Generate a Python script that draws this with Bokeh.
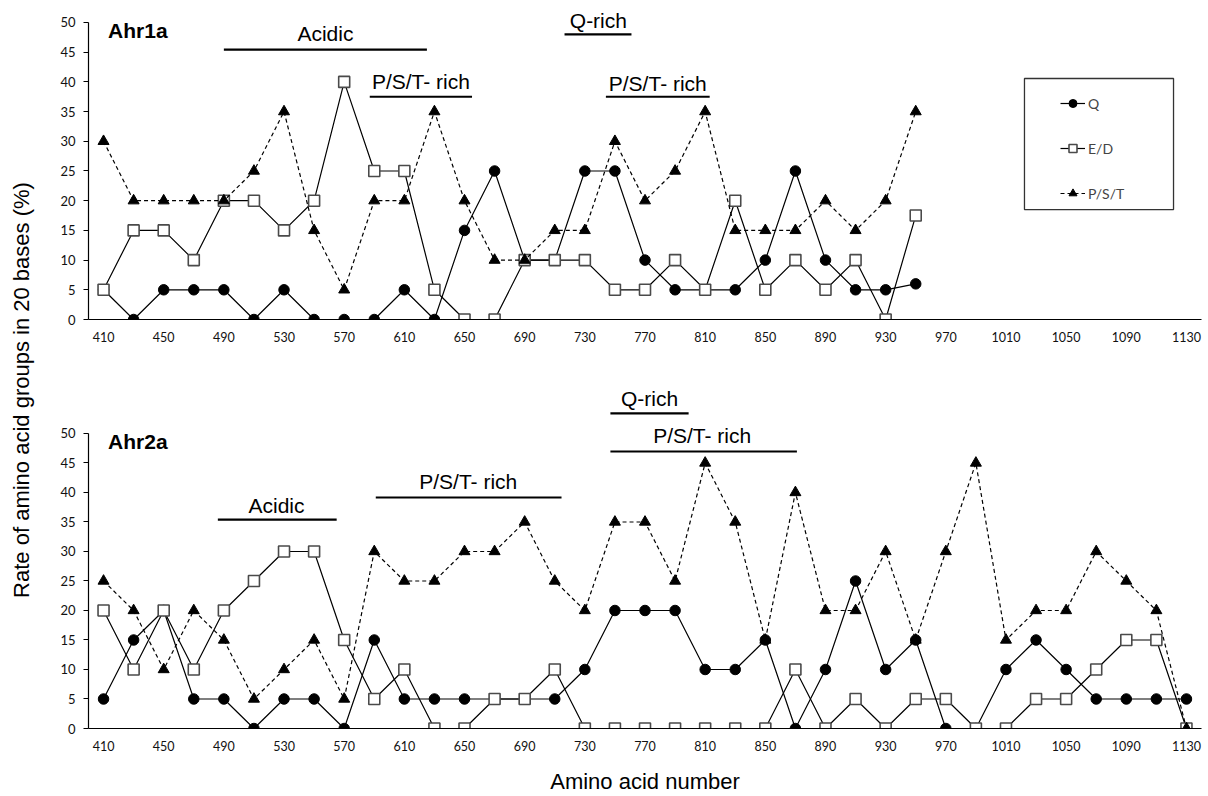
from bokeh.plotting import figure
from bokeh.models import (Range1d, FixedTicker, Label, Legend, LegendItem,
                          BoxAnnotation, Div)
from bokeh.layouts import row, column
from bokeh.embed import file_html
from bokeh.resources import INLINE

# ---------------- data ----------------
aa_top = [410, 430, 450, 470, 490, 510, 530, 550, 570, 590, 610, 630, 650, 670,
          690, 710, 730, 750, 770, 790, 810, 830, 850, 870, 890, 910, 930, 950]
q_top = [5, 0, 5, 5, 5, 0, 5, 0, 0, 0, 5, 0, 15, 25,
         10, 10, 25, 25, 10, 5, 5, 5, 10, 25, 10, 5, 5, 6]
ed_top = [5, 15, 15, 10, 20, 20, 15, 20, 40, 25, 25, 5, 0, 0,
          10, 10, 10, 5, 5, 10, 5, 20, 5, 10, 5, 10, 0, 17.5]
pst_top = [30, 20, 20, 20, 20, 25, 35, 15, 5, 20, 20, 35, 20, 10,
           10, 15, 15, 30, 20, 25, 35, 15, 15, 15, 20, 15, 20, 35]

aa_bot = [410, 430, 450, 470, 490, 510, 530, 550, 570, 590, 610, 630, 650, 670,
          690, 710, 730, 750, 770, 790, 810, 830, 850, 870, 890, 910, 930, 950,
          970, 990, 1010, 1030, 1050, 1070, 1090, 1110, 1130]
q_bot = [5, 15, 20, 5, 5, 0, 5, 5, 0, 15, 5, 5, 5, 5,
         5, 5, 10, 20, 20, 20, 10, 10, 15, 0, 10, 25, 10, 15,
         0, 0, 10, 15, 10, 5, 5, 5, 5]
ed_bot = [20, 10, 20, 10, 20, 25, 30, 30, 15, 5, 10, 0, 0, 5,
          5, 10, 0, 0, 0, 0, 0, 0, 0, 10, 0, 5, 0, 5,
          5, 0, 0, 5, 5, 10, 15, 15, 0]
pst_bot = [25, 20, 10, 20, 15, 5, 10, 15, 5, 30, 25, 25, 30, 30,
           35, 25, 20, 35, 35, 25, 45, 35, 15, 40, 20, 20, 30, 15,
           30, 45, 15, 20, 20, 30, 25, 20, 0]

x_tick_labels = [410, 450, 490, 530, 570, 610, 650, 690, 730, 770, 810, 850,
                 890, 930, 970, 1010, 1050, 1090, 1130]
y_tick_labels = [0, 5, 10, 15, 20, 25, 30, 35, 40, 45, 50]

series_names = ["Q", "E/D", "P/S/T"]

# region annotations: (label, start, end, bar level, text x, text y)
regions_top = [("Acidic", 490, 625, 45.45, 557.5, 48.1),
               ("P/S/T- rich", 587, 655, 37.5, 621, 40.0),
               ("Q-rich", 716.5, 761, 48.0, 739, 50.3),
               ("P/S/T- rich", 744, 813, 37.5, 778.5, 39.7)]
regions_bot = [("Acidic", 486, 565, 35.4, 525, 37.8),
               ("P/S/T- rich", 591, 714.5, 39.15, 652.5, 41.9),
               ("Q-rich", 747, 799, 53.4, 773, 55.9),
               ("P/S/T- rich", 747, 871, 46.95, 808, 49.66)]

TEXT_FONT = "Liberation Sans"
TICK_FONT = "Lato"


def make_panel(title, aa, q, ed, pst, regions, height, y_end, mb_top, mb_bottom,
               with_legend=False, xlabel=None):
    p = figure(width=1168, height=height, x_range=Range1d(400, 1140),
               y_range=Range1d(0, y_end), toolbar_location=None,
               output_backend="svg", min_border_left=48, min_border_right=7,
               min_border_top=mb_top, min_border_bottom=mb_bottom)
    p.xgrid.visible = False
    p.ygrid.visible = False
    p.outline_line_color = None
    p.background_fill_color = "white"
    p.border_fill_color = "white"

    # axes
    p.yaxis.ticker = FixedTicker(ticks=y_tick_labels)
    p.yaxis.bounds = (0, 50)
    p.yaxis.major_tick_out = 5
    p.yaxis.major_tick_in = 0
    p.yaxis.minor_tick_line_color = None
    p.yaxis.axis_line_width = 1.2
    p.yaxis.major_tick_line_width = 1.2
    p.yaxis.major_label_standoff = 8
    p.yaxis.major_label_text_font = TICK_FONT
    p.yaxis.major_label_text_font_size = "13px"
    p.yaxis.major_label_text_color = "#111111"

    p.xaxis.ticker = FixedTicker(ticks=x_tick_labels)
    p.xaxis.major_tick_out = 0
    p.xaxis.major_tick_in = 0
    p.xaxis.minor_tick_line_color = None
    p.xaxis.axis_line_width = 1.2
    p.xaxis.major_label_standoff = 12
    p.xaxis.major_label_text_font = TICK_FONT
    p.xaxis.major_label_text_font_size = "12.5px"
    p.xaxis.major_label_text_color = "#111111"
    if xlabel:
        p.xaxis.axis_label = xlabel
        p.xaxis.axis_label_text_font = TEXT_FONT
        p.xaxis.axis_label_text_font_size = "22px"
        p.xaxis.axis_label_text_font_style = "normal"
        p.xaxis.axis_label_text_color = "black"
        p.xaxis.axis_label_standoff = 15

    # series
    lq = p.line(aa, q, line_color="black", line_width=1.2)
    sq = p.scatter(aa, q, marker="circle", size=10.5, fill_color="black",
                   line_color="black")
    le = p.line(aa, ed, line_color="black", line_width=1.2)
    se = p.scatter(aa, ed, marker="square", size=11, fill_color="white",
                   line_color="#4a4a4a", line_width=1.6)
    lp = p.line(aa, pst, line_color="black", line_width=1.2, line_dash="4 3")
    sp = p.scatter(aa, pst, marker="triangle", size=11, fill_color="black",
                   line_color="black")

    # region bars and labels
    p.segment(x0=[r[1] for r in regions], y0=[r[3] for r in regions],
              x1=[r[2] for r in regions], y1=[r[3] for r in regions],
              line_color="black", line_width=2.2)
    for name, s, e, lvl, tx, ty in regions:
        p.add_layout(Label(x=tx, y=ty, text=name, text_align="center",
                           text_baseline="middle", text_font=TEXT_FONT,
                           text_font_size="21px", text_color="black"))

    p.add_layout(Label(x=413, y=48.6, text=title, text_align="left",
                       text_baseline="middle", text_font=TEXT_FONT,
                       text_font_size="21px", text_font_style="bold",
                       text_color="black"))

    if with_legend:
        p.add_layout(BoxAnnotation(left=1022.3, right=1121.4, bottom=18.5,
                                   top=40.57, fill_alpha=0, line_color="#333333",
                                   line_alpha=1, line_width=1.3))
        legend = Legend(items=[LegendItem(label=series_names[0], renderers=[lq, sq]),
                               LegendItem(label=series_names[1], renderers=[le, se]),
                               LegendItem(label=series_names[2], renderers=[lp, sp])],
                        location=(972, 116), padding=0, margin=0, spacing=25,
                        glyph_width=25, glyph_height=20, label_height=20,
                        label_standoff=3, border_line_color=None,
                        background_fill_alpha=0, label_text_font=TICK_FONT,
                        label_text_font_size="14px")
        p.add_layout(legend)
    return p


p1 = make_panel("Ahr1a", aa_top, q_top, ed_top, pst_top, regions_top,
                height=360, y_end=53.03, mb_top=4, mb_bottom=41, with_legend=True)
p2 = make_panel("Ahr2a", aa_bot, q_bot, ed_bot, pst_bot, regions_bot,
                height=436, y_end=58.98, mb_top=20, mb_bottom=68,
                xlabel="Amino acid number")

ylabel = Div(
    text=('<div style="position:absolute; left:22px; top:390px; '
          'transform:translate(-50%,-50%) rotate(-90deg); white-space:nowrap; '
          "font-family:'Liberation Sans', Arial, sans-serif; font-size:22px; "
          'color:#000;">Rate of amino acid groups in 20 bases (%)</div>'),
    width=40, height=796, margin=0)

layout = row(ylabel, column(p1, p2, spacing=0), spacing=0)

open("out.html", "w").write(file_html(layout, INLINE))
